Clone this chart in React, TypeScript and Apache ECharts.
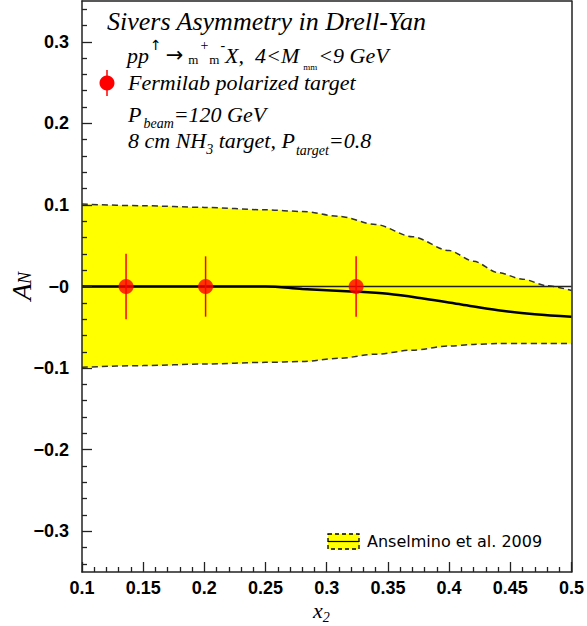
import React, { useEffect, useRef } from 'react';
import * as echarts from 'echarts';

// ---- data ----
const bandX = [0.1, 0.15, 0.2, 0.25, 0.28, 0.31, 0.34, 0.37, 0.4, 0.42, 0.44, 0.46, 0.48, 0.5];
const bandUpper = [0.101, 0.099, 0.097, 0.094, 0.092, 0.086, 0.076, 0.061, 0.044, 0.031, 0.017, 0.009, 0.001, -0.005];
const bandLower = [-0.099, -0.097, -0.095, -0.093, -0.092, -0.088, -0.083, -0.078, -0.073, -0.071, -0.07, -0.07, -0.07, -0.07];

const centralX = [0.1, 0.15, 0.2, 0.25, 0.28, 0.32, 0.35, 0.38, 0.41, 0.44, 0.47, 0.5];
const centralY = [0, 0, 0, 0, -0.003, -0.006, -0.009, -0.015, -0.022, -0.029, -0.034, -0.037];

const pointX = [0.136, 0.201, 0.324];
const pointY = [0, 0, 0];
const pointErr = [0.04, 0.037, 0.037];

const yMajorTicks = [-0.3, -0.2, -0.1, 0, 0.1, 0.2, 0.3];
const yMinorTicks = [
  -0.34, -0.32, -0.28, -0.26, -0.24, -0.22, -0.18, -0.16, -0.14, -0.12,
  -0.08, -0.06, -0.04, -0.02, 0.02, 0.04, 0.06, 0.08, 0.12, 0.14, 0.16, 0.18,
  0.22, 0.24, 0.26, 0.28, 0.32, 0.34,
];

const legendLabel = 'Anselmino et al. 2009';

const SERIF = 'Liberation Serif';
const SANS = 'Liberation Sans';
const DEJAVU = 'DejaVu Sans';

type Seg = { text: string; size: number; italic?: boolean; family?: string; dy?: number; gap?: number; adv?: number };

function txt(x: number, base: number, text: string, size: number, family: string, fontStyle: string, weight = 'normal', extra: any = {}) {
  return {
    type: 'text',
    x,
    y: base - 0.34 * size,
    silent: true,
    z: 20,
    ...extra,
    style: {
      text,
      fontSize: size,
      fontFamily: family,
      fontStyle,
      fontWeight: weight,
      fill: '#000',
      textAlign: 'left',
      textVerticalAlign: 'middle',
      align: 'left',
      verticalAlign: 'middle',
    },
  };
}

function flow(ctx: CanvasRenderingContext2D, x0: number, base: number, segs: Seg[]) {
  let x = x0;
  const out: any[] = [];
  for (const s of segs) {
    const fam = s.family || SERIF;
    const st = s.italic === false ? 'normal' : 'italic';
    ctx.font = `${st} ${s.size}px '${fam}'`;
    x += s.gap || 0;
    out.push(txt(x, base + (s.dy || 0), s.text, s.size, fam, st));
    x += s.adv !== undefined ? s.adv : ctx.measureText(s.text).width;
  }
  return out;
}

function buildOption(ctx: CanvasRenderingContext2D) {
  const graphics: any[] = [
    ...flow(ctx, 107, 30, [{ text: 'Sivers Asymmetry in Drell-Yan', size: 26 }]),
    ...flow(ctx, 127, 63, [
      { text: 'pp', size: 22 },
      { text: '↑', size: 14, italic: false, family: DEJAVU, dy: -13, gap: 1 },
      { text: '→', size: 21, italic: false, family: DEJAVU, dy: -1, gap: 4 },
      { text: 'm', size: 13, italic: false, gap: 5, dy: 1 },
      { text: '+', size: 14, italic: false, dy: -13, gap: 2 },
      { text: 'm', size: 13, italic: false, gap: 1, dy: 1 },
      { text: '-', size: 14, italic: false, dy: -13, gap: 1 },
      { text: 'X,', size: 22 },
      { text: '4<M', size: 22, gap: 11 },
      { text: 'mm', size: 9, italic: false, dy: 7, gap: 4 },
      { text: '<9 GeV', size: 22, gap: 1 },
    ]),
    ...flow(ctx, 128, 90, [{ text: 'Fermilab polarized target', size: 22 }]),
    ...flow(ctx, 128, 122, [
      { text: 'P', size: 22 },
      { text: 'beam', size: 14, dy: 6, gap: 2 },
      { text: '=120 GeV', size: 22 },
    ]),
    ...flow(ctx, 128, 148, [
      { text: '8 cm NH', size: 22 },
      { text: '3', size: 14, dy: 6 },
      { text: ' target, P', size: 22 },
      { text: 'target', size: 14, dy: 7, gap: 1 },
      { text: '=0.8', size: 22 },
    ]),
    // marker in the text legend
    { type: 'line', z: 20, silent: true, shape: { x1: 107, y1: 70, x2: 107, y2: 96 }, style: { stroke: '#ff0000', lineWidth: 1.5 } },
    { type: 'circle', z: 21, silent: true, shape: { cx: 107, cy: 83, r: 7.5 }, style: { fill: '#ff0000' } },
    // bottom legend
    { type: 'rect', z: 20, silent: true, shape: { x: 328, y: 534, width: 31, height: 15 }, style: { fill: '#ffff00', stroke: '#000', lineWidth: 1.3, lineDash: [4, 3] } },
    { type: 'line', z: 21, silent: true, shape: { x1: 328, y1: 541.5, x2: 359, y2: 541.5 }, style: { stroke: '#000', lineWidth: 1.2 } },
    txt(367, 547, legendLabel, 16, DEJAVU, 'normal'),
    // axis titles
    txt(21, 310, 'A', 28, SERIF, 'italic', 'normal', { rotation: Math.PI / 2 }),
    txt(25, 290, 'N', 18, SERIF, 'italic', 'normal', { rotation: Math.PI / 2 }),
    ...flow(ctx, 313, 618, [
      { text: 'x', size: 22 },
      { text: '2', size: 14, dy: 4 },
    ]),
  ];

  const axisLineStyle = { color: '#222', width: 1.5 };

  return {
    animation: false,
    backgroundColor: '#fff',
    grid: { left: 82, right: 11, top: 1, bottom: 54, containLabel: false },
    xAxis: [
      {
        type: 'value', min: 0.1, max: 0.5, interval: 0.05, position: 'bottom', z: 10,
        axisLine: { show: true, onZero: false, lineStyle: axisLineStyle },
        axisTick: { show: true, inside: true, length: 10, lineStyle: { color: '#222', width: 1.3 } },
        minorTick: { show: true, splitNumber: 5, length: 5, lineStyle: { color: '#222', width: 1.3 } },
        splitLine: { show: false },
        axisLabel: {
          show: true, margin: 7, color: '#000', fontSize: 18, fontWeight: 'bold', fontFamily: SANS,
          showMinLabel: true, showMaxLabel: true,
          formatter: (v: number) => String(+v.toFixed(2)),
        },
      },
      {
        type: 'value', min: 0.1, max: 0.5, position: 'top', z: 10,
        axisLine: { show: true, onZero: false, lineStyle: axisLineStyle },
        axisTick: { show: false }, axisLabel: { show: false }, splitLine: { show: false },
      },
    ],
    yAxis: [
      {
        type: 'value', min: -0.35, max: 0.35, position: 'left', z: 10,
        axisLine: { show: true, onZero: false, lineStyle: axisLineStyle },
        axisTick: { show: true, inside: true, length: 10, customValues: yMajorTicks, lineStyle: { color: '#222', width: 1.3 } },
        splitLine: { show: false },
        axisLabel: {
          show: true, margin: 13, color: '#000', fontSize: 18, fontWeight: 'bold', fontFamily: SANS,
          customValues: yMajorTicks,
          formatter: (v: number) => (Math.abs(v) < 1e-9 ? '\u22120' : (v < 0 ? '\u2212' : '') + Math.abs(v).toFixed(1)),
        },
      },
      {
        type: 'value', min: -0.35, max: 0.35, position: 'left', z: 10,
        axisLine: { show: false },
        axisTick: { show: true, inside: true, length: 5, customValues: yMinorTicks, lineStyle: { color: '#222', width: 1.3 } },
        axisLabel: { show: false }, splitLine: { show: false },
      },
      {
        type: 'value', min: -0.35, max: 0.35, position: 'right', z: 10,
        axisLine: { show: true, onZero: false, lineStyle: axisLineStyle },
        axisTick: { show: false }, axisLabel: { show: false }, splitLine: { show: false },
      },
    ],
    graphic: graphics,
    series: [
      {
        name: 'upper', type: 'line', z: 1, silent: true, symbol: 'none', smooth: 0.3, smoothMonotone: 'x',
        data: bandX.map((x, i) => [x, bandUpper[i]]),
        lineStyle: { color: '#333', width: 1.5, type: [6, 4] },
        areaStyle: { color: '#ffff00', opacity: 1, origin: 'start' },
      },
      {
        name: 'lower', type: 'line', z: 2, silent: true, symbol: 'none', smooth: 0.3, smoothMonotone: 'x',
        data: bandX.map((x, i) => [x, bandLower[i]]),
        lineStyle: { color: '#333', width: 1.5, type: [6, 4] },
        areaStyle: { color: '#ffffff', opacity: 1, origin: 'start' },
      },
      {
        name: 'zero', type: 'line', z: 3, silent: true, symbol: 'none',
        data: [[0.1, 0], [0.5, 0]],
        lineStyle: { color: '#222', width: 1.5 },
      },
      {
        name: 'central', type: 'line', z: 4, silent: true, symbol: 'none', smooth: 0.35,
        data: centralX.map((x, i) => [x, centralY[i]]),
        lineStyle: { color: '#000', width: 2.5 },
      },
      {
        name: 'errors', type: 'custom', z: 5, silent: true,
        data: pointX.map((x, i) => [x, pointY[i], pointErr[i]]),
        encode: { x: 0, y: 1 },
        renderItem: (params: any, api: any) => {
          const x = api.value(0), y = api.value(1), e = api.value(2);
          const p1 = api.coord([x, y + e]);
          const p2 = api.coord([x, y - e]);
          return { type: 'line', shape: { x1: p1[0], y1: p1[1], x2: p2[0], y2: p2[1] }, style: { stroke: '#ff0000', lineWidth: 1.5 } };
        },
      },
      {
        name: 'points', type: 'scatter', z: 6, silent: true, symbol: 'circle', symbolSize: 15,
        data: pointX.map((x, i) => [x, pointY[i]]),
        itemStyle: { color: '#ff0000' },
      },
    ],
  };
}

export default function App() {
  const ref = useRef<HTMLDivElement>(null);
  useEffect(() => {
    const el = ref.current!;
    const chart = echarts.init(el, undefined, { renderer: 'svg' });
    const ctx = document.createElement('canvas').getContext('2d')!;
    chart.setOption(buildOption(ctx) as any);
    return () => chart.dispose();
  }, []);
  return <div ref={ref} style={{ position: 'absolute', left: 0, top: 0, width: 587, height: 626 }} />;
}
